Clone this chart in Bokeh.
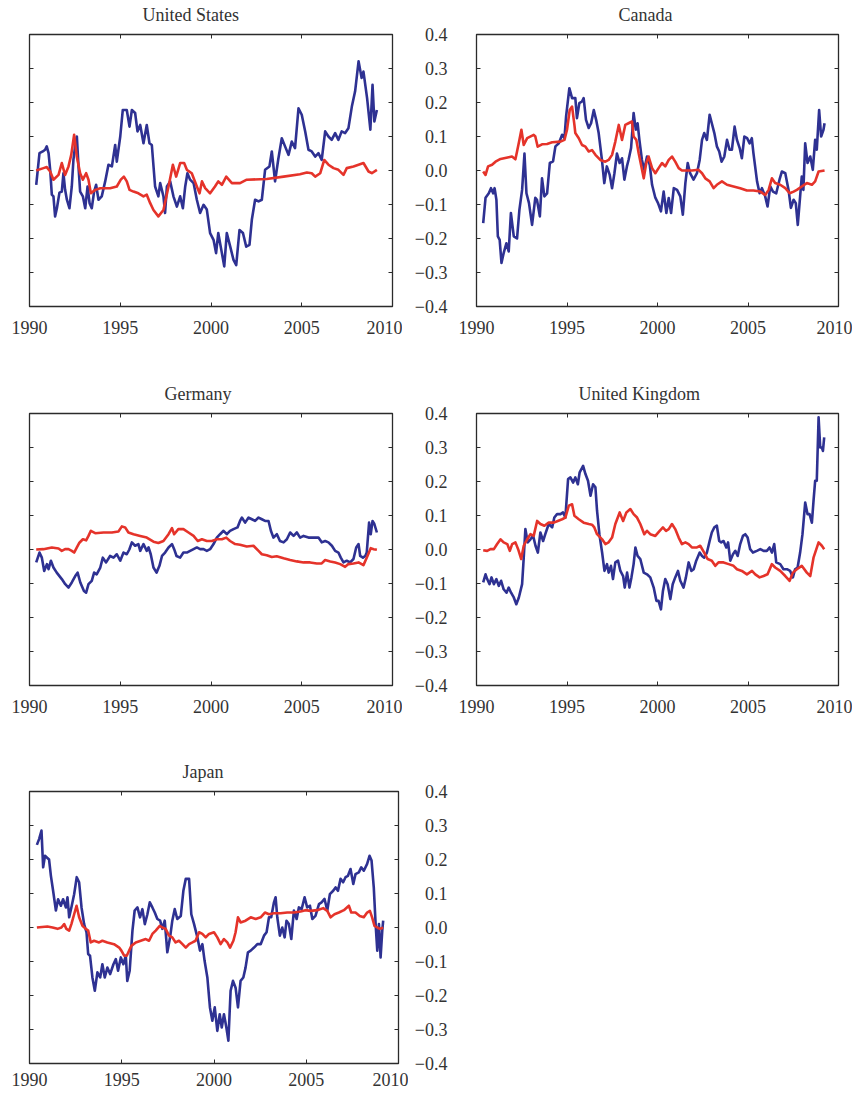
from bokeh.plotting import figure
from bokeh.models import Range1d, LinearAxis, FixedTicker, Title
from bokeh.layouts import column, row
from bokeh.embed import file_html
from bokeh.resources import INLINE

# ---------------- data ----------------
YEAR_TICKS = [1990, 1995, 2000, 2005, 2010]
YEAR_LABELS = ["1990", "1995", "2000", "2005", "2010"]
VALUE_TICKS = [-0.4, -0.3, -0.2, -0.1, 0.0, 0.1, 0.2, 0.3, 0.4]
VALUE_LABELS = ["\u22120.4", "\u22120.3", "\u22120.2", "\u22120.1", "0.0", "0.1", "0.2", "0.3", "0.4"]

# United States
US_BLUE_T = [1990.37, 1990.55, 1990.73, 1990.86, 1990.95, 1991.05, 1991.14, 1991.23, 1991.32, 1991.41, 1991.51, 1991.65, 1991.78, 1991.87, 1991.96, 1992.06, 1992.2, 1992.33, 1992.42, 1992.51, 1992.61, 1992.7, 1992.79, 1992.94, 1993.07, 1993.2, 1993.31, 1993.43, 1993.56, 1993.67, 1993.8, 1993.98, 1994.17, 1994.35, 1994.54, 1994.72, 1994.81, 1995.0, 1995.14, 1995.36, 1995.51, 1995.64, 1995.82, 1995.95, 1996.1, 1996.28, 1996.46, 1996.61, 1996.74, 1996.92, 1997.1, 1997.2, 1997.38, 1997.47, 1997.57, 1997.75, 1997.93, 1998.12, 1998.3, 1998.45, 1998.58, 1998.7, 1998.85, 1999.04, 1999.22, 1999.4, 1999.59, 1999.77, 1999.95, 2000.14, 2000.28, 2000.4, 2000.6, 2000.73, 2000.87, 2001.06, 2001.24, 2001.39, 2001.57, 2001.76, 2001.94, 2002.12, 2002.25, 2002.43, 2002.62, 2002.8, 2002.98, 2003.22, 2003.35, 2003.53, 2003.7, 2003.9, 2004.08, 2004.27, 2004.45, 2004.63, 2004.82, 2005.0, 2005.19, 2005.37, 2005.55, 2005.74, 2005.92, 2006.1, 2006.29, 2006.47, 2006.65, 2006.84, 2007.02, 2007.2, 2007.39, 2007.57, 2007.76, 2007.94, 2008.13, 2008.3, 2008.4, 2008.6, 2008.78, 2008.9, 2009.0, 2009.14]
US_BLUE_V = [-0.042, 0.051, 0.056, 0.061, 0.071, 0.051, 0.002, -0.071, -0.076, -0.135, -0.111, -0.065, -0.062, -0.008, -0.056, -0.086, -0.111, -0.047, 0.031, 0.071, 0.100, 0.012, -0.062, -0.076, -0.111, -0.047, -0.096, -0.111, -0.062, -0.042, -0.086, -0.076, -0.032, 0.017, 0.012, 0.075, 0.026, 0.100, 0.178, 0.178, 0.129, 0.178, 0.169, 0.115, 0.134, 0.080, 0.134, 0.080, 0.075, -0.047, -0.076, -0.037, -0.076, -0.125, -0.047, -0.032, -0.076, -0.106, -0.076, -0.111, -0.047, -0.008, -0.027, -0.037, -0.086, -0.125, -0.101, -0.115, -0.184, -0.204, -0.243, -0.184, -0.243, -0.282, -0.184, -0.224, -0.263, -0.278, -0.175, -0.184, -0.224, -0.219, -0.145, -0.086, -0.091, -0.086, 0.002, 0.012, 0.056, -0.032, 0.031, 0.095, 0.071, 0.046, 0.085, 0.066, 0.183, 0.164, 0.115, 0.061, 0.056, 0.041, 0.051, 0.031, 0.115, 0.100, 0.090, 0.110, 0.090, 0.115, 0.110, 0.124, 0.188, 0.233, 0.321, 0.272, 0.291, 0.213, 0.120, 0.252, 0.144, 0.178]
US_RED_T = [1990.37, 1990.77, 1990.95, 1991.14, 1991.32, 1991.6, 1991.78, 1991.96, 1992.15, 1992.3, 1992.46, 1992.61, 1992.79, 1992.94, 1993.12, 1993.25, 1993.38, 1993.62, 1993.9, 1994.44, 1994.81, 1995.03, 1995.2, 1995.36, 1995.51, 1995.73, 1996.0, 1996.28, 1996.46, 1996.65, 1996.83, 1997.1, 1997.38, 1997.66, 1997.9, 1998.08, 1998.3, 1998.52, 1998.67, 1998.94, 1999.22, 1999.37, 1999.5, 1999.68, 1999.95, 2000.22, 2000.4, 2000.6, 2000.84, 2001.15, 2001.6, 2001.97, 2003.07, 2004.0, 2004.9, 2005.28, 2005.55, 2005.74, 2006.02, 2006.24, 2006.47, 2006.75, 2007.02, 2007.3, 2007.48, 2007.85, 2008.13, 2008.4, 2008.68, 2008.86, 2009.14]
US_RED_V = [0.0, 0.007, 0.010, -0.003, -0.027, -0.013, 0.022, -0.013, 0.012, 0.046, 0.105, 0.040, -0.008, -0.027, -0.008, -0.027, -0.067, -0.057, -0.052, -0.052, -0.047, -0.027, -0.018, -0.032, -0.057, -0.062, -0.067, -0.076, -0.071, -0.096, -0.116, -0.135, -0.116, -0.047, 0.017, -0.018, 0.022, 0.022, 0.002, -0.008, -0.047, -0.067, -0.032, -0.052, -0.067, -0.047, -0.032, -0.042, -0.018, -0.037, -0.037, -0.027, -0.025, -0.018, -0.011, -0.006, -0.008, -0.018, -0.008, 0.031, 0.017, 0.007, 0.002, -0.013, 0.007, 0.012, 0.017, 0.022, -0.003, -0.008, 0.002]

# Canada
CA_BLUE_T = [1990.37, 1990.5, 1990.68, 1990.8, 1990.92, 1991.0, 1991.1, 1991.18, 1991.28, 1991.38, 1991.5, 1991.65, 1991.78, 1991.9, 1992.06, 1992.24, 1992.37, 1992.52, 1992.65, 1992.76, 1992.9, 1993.07, 1993.25, 1993.34, 1993.5, 1993.62, 1993.75, 1993.9, 1994.05, 1994.23, 1994.36, 1994.55, 1994.73, 1994.86, 1994.95, 1995.13, 1995.28, 1995.46, 1995.55, 1995.68, 1995.83, 1995.92, 1996.05, 1996.2, 1996.33, 1996.48, 1996.61, 1996.75, 1996.93, 1997.06, 1997.2, 1997.36, 1997.49, 1997.62, 1997.76, 1997.91, 1998.04, 1998.17, 1998.31, 1998.4, 1998.54, 1998.68, 1998.8, 1998.9, 1999.0, 1999.14, 1999.27, 1999.42, 1999.57, 1999.7, 1999.88, 2000.03, 2000.19, 2000.34, 2000.49, 2000.62, 2000.75, 2000.9, 2001.08, 2001.26, 2001.4, 2001.54, 2001.67, 2001.8, 2001.99, 2002.18, 2002.33, 2002.46, 2002.58, 2002.73, 2002.88, 2003.0, 2003.14, 2003.28, 2003.41, 2003.54, 2003.69, 2003.84, 2003.98, 2004.11, 2004.26, 2004.39, 2004.54, 2004.66, 2004.8, 2004.95, 2005.09, 2005.21, 2005.3, 2005.5, 2005.64, 2005.77, 2005.95, 2006.08, 2006.23, 2006.38, 2006.56, 2006.74, 2006.87, 2007.06, 2007.24, 2007.37, 2007.52, 2007.64, 2007.75, 2007.88, 2007.97, 2008.06, 2008.16, 2008.29, 2008.44, 2008.58, 2008.71, 2008.8, 2008.93, 2009.04, 2009.17, 2009.23]
CA_BLUE_V = [-0.155, -0.080, -0.067, -0.052, -0.067, -0.052, -0.086, -0.194, -0.204, -0.272, -0.243, -0.214, -0.238, -0.125, -0.194, -0.200, -0.116, -0.057, 0.050, -0.067, -0.096, -0.160, -0.080, -0.086, -0.135, -0.023, -0.076, -0.067, 0.022, 0.027, 0.071, 0.080, 0.105, 0.095, 0.159, 0.242, 0.213, 0.213, 0.154, 0.198, 0.203, 0.213, 0.149, 0.125, 0.139, 0.178, 0.149, 0.110, 0.031, -0.037, 0.012, -0.013, -0.052, -0.008, 0.050, 0.022, 0.036, -0.027, 0.012, 0.031, 0.066, 0.169, 0.120, 0.139, 0.090, 0.031, 0.002, 0.041, 0.017, -0.042, -0.080, -0.096, -0.120, -0.062, -0.125, -0.081, -0.125, -0.052, -0.057, -0.076, -0.130, -0.037, 0.022, -0.008, -0.027, -0.008, 0.031, 0.090, 0.110, 0.090, 0.164, 0.139, 0.110, 0.071, 0.056, 0.026, 0.041, 0.090, 0.061, 0.061, 0.129, 0.090, 0.066, 0.036, 0.100, 0.095, 0.080, 0.095, 0.051, -0.032, -0.067, -0.052, -0.076, -0.106, -0.047, -0.062, -0.067, -0.027, -0.003, -0.008, -0.057, -0.110, -0.086, -0.096, -0.160, -0.076, -0.018, -0.057, 0.080, 0.022, 0.041, 0.002, 0.090, 0.061, 0.178, 0.100, 0.120, 0.139]
CA_RED_T = [1990.37, 1990.5, 1990.64, 1990.86, 1991.05, 1991.33, 1991.78, 1991.96, 1992.15, 1992.24, 1992.37, 1992.48, 1992.61, 1992.8, 1993.16, 1993.25, 1993.38, 1993.62, 1993.9, 1994.18, 1994.64, 1994.86, 1995.0, 1995.15, 1995.28, 1995.41, 1995.46, 1995.65, 1995.83, 1996.02, 1996.2, 1996.38, 1996.57, 1996.84, 1997.12, 1997.3, 1997.49, 1997.67, 1997.86, 1998.04, 1998.22, 1998.4, 1998.59, 1998.68, 1998.83, 1998.96, 1999.09, 1999.24, 1999.38, 1999.51, 1999.7, 1999.88, 2000.06, 2000.25, 2000.43, 2000.62, 2000.8, 2000.98, 2001.17, 2001.35, 2001.9, 2002.27, 2002.46, 2002.64, 2002.88, 2003.1, 2003.28, 2003.56, 2003.84, 2004.2, 2004.57, 2004.94, 2005.3, 2005.68, 2005.95, 2006.14, 2006.32, 2006.5, 2006.78, 2007.06, 2007.3, 2007.52, 2007.7, 2007.97, 2008.25, 2008.53, 2008.71, 2008.9, 2009.23]
CA_RED_V = [-0.003, -0.013, 0.012, 0.017, 0.026, 0.034, 0.039, 0.041, 0.033, 0.056, 0.090, 0.120, 0.075, 0.095, 0.105, 0.100, 0.070, 0.077, 0.078, 0.083, 0.085, 0.090, 0.120, 0.178, 0.188, 0.134, 0.110, 0.095, 0.075, 0.070, 0.056, 0.060, 0.046, 0.031, 0.026, 0.031, 0.046, 0.085, 0.134, 0.090, 0.134, 0.139, 0.144, 0.100, 0.090, 0.051, 0.017, -0.023, 0.022, 0.041, 0.007, -0.008, 0.007, 0.022, 0.012, 0.031, 0.041, 0.026, 0.007, 0.0, 0.0, 0.002, -0.008, -0.023, -0.032, -0.052, -0.042, -0.032, -0.042, -0.047, -0.052, -0.059, -0.059, -0.062, -0.072, -0.057, -0.023, -0.037, -0.042, -0.052, -0.067, -0.062, -0.057, -0.047, -0.037, -0.042, -0.032, -0.003, 0.0]

# Germany
DE_BLUE_T = [1990.37, 1990.55, 1990.68, 1990.81, 1990.96, 1991.05, 1991.18, 1991.32, 1991.5, 1991.78, 1991.97, 1992.15, 1992.33, 1992.52, 1992.65, 1992.8, 1993.0, 1993.12, 1993.25, 1993.43, 1993.56, 1993.7, 1993.9, 1994.04, 1994.22, 1994.44, 1994.63, 1994.81, 1995.0, 1995.18, 1995.36, 1995.5, 1995.64, 1995.82, 1996.0, 1996.1, 1996.28, 1996.46, 1996.56, 1996.68, 1996.83, 1997.0, 1997.16, 1997.3, 1997.47, 1997.66, 1997.85, 1997.97, 1998.1, 1998.3, 1998.48, 1998.67, 1998.85, 1999.04, 1999.22, 1999.4, 1999.59, 1999.77, 1999.95, 2000.14, 2000.32, 2000.5, 2000.69, 2000.87, 2001.05, 2001.24, 2001.46, 2001.6, 2001.7, 2001.88, 2002.07, 2002.25, 2002.43, 2002.62, 2002.8, 2002.98, 2003.17, 2003.3, 2003.44, 2003.63, 2003.8, 2004.0, 2004.18, 2004.36, 2004.55, 2004.73, 2004.91, 2005.1, 2005.37, 2005.65, 2005.92, 2006.1, 2006.29, 2006.47, 2006.66, 2006.84, 2007.02, 2007.15, 2007.3, 2007.48, 2007.67, 2007.85, 2008.0, 2008.13, 2008.22, 2008.37, 2008.5, 2008.58, 2008.71, 2008.8, 2008.9, 2009.0, 2009.14]
DE_BLUE_V = [-0.038, -0.009, -0.024, -0.063, -0.043, -0.058, -0.033, -0.053, -0.068, -0.087, -0.102, -0.112, -0.097, -0.078, -0.068, -0.097, -0.122, -0.127, -0.102, -0.092, -0.068, -0.073, -0.053, -0.024, -0.038, -0.019, -0.024, -0.014, -0.033, -0.009, -0.014, 0.0, 0.021, 0.011, 0.016, -0.004, 0.016, -0.004, 0.006, -0.014, -0.053, -0.068, -0.048, -0.019, -0.009, 0.006, 0.016, 0.001, -0.019, -0.024, -0.009, -0.009, -0.004, 0.001, 0.006, 0.001, 0.001, -0.004, 0.001, 0.016, 0.035, 0.045, 0.055, 0.045, 0.055, 0.060, 0.065, 0.084, 0.094, 0.079, 0.094, 0.089, 0.084, 0.094, 0.089, 0.084, 0.084, 0.055, 0.035, 0.045, 0.025, 0.021, 0.030, 0.050, 0.040, 0.050, 0.035, 0.040, 0.035, 0.035, 0.035, 0.021, 0.025, 0.021, 0.011, -0.004, -0.009, -0.024, -0.038, -0.033, -0.038, -0.028, 0.006, 0.016, -0.019, -0.024, -0.019, -0.009, 0.079, 0.045, 0.084, 0.075, 0.050]
DE_RED_T = [1990.37, 1990.77, 1991.23, 1991.6, 1991.78, 1991.96, 1992.15, 1992.33, 1992.46, 1992.61, 1992.75, 1992.94, 1993.12, 1993.25, 1993.38, 1993.62, 1994.08, 1994.54, 1994.9, 1995.09, 1995.27, 1995.45, 1995.73, 1996.1, 1996.46, 1996.83, 1997.1, 1997.38, 1997.66, 1997.85, 1997.97, 1998.2, 1998.48, 1998.76, 1999.04, 1999.27, 1999.5, 1999.77, 2000.05, 2000.32, 2000.6, 2000.84, 2001.05, 2001.33, 2001.6, 2001.97, 2002.34, 2002.62, 2002.8, 2003.07, 2003.35, 2003.62, 2004.0, 2004.36, 2004.73, 2005.1, 2005.46, 2005.83, 2006.1, 2006.29, 2006.57, 2006.84, 2007.12, 2007.39, 2007.57, 2007.85, 2008.13, 2008.4, 2008.58, 2008.8, 2008.96, 2009.14]
DE_RED_V = [0.0, 0.001, 0.006, 0.003, -0.004, 0.001, 0.001, -0.004, -0.009, 0.006, 0.020, 0.030, 0.027, 0.040, 0.055, 0.048, 0.050, 0.050, 0.053, 0.068, 0.065, 0.050, 0.045, 0.040, 0.035, 0.023, 0.019, 0.025, 0.045, 0.063, 0.045, 0.060, 0.060, 0.050, 0.040, 0.025, 0.030, 0.025, 0.025, 0.030, 0.030, 0.035, 0.025, 0.016, 0.014, 0.009, 0.011, -0.004, -0.014, -0.017, -0.022, -0.020, -0.026, -0.031, -0.035, -0.038, -0.038, -0.041, -0.041, -0.031, -0.035, -0.038, -0.043, -0.051, -0.043, -0.041, -0.038, -0.046, -0.024, 0.004, 0.001, -0.001]

# United Kingdom
UK_BLUE_T = [1990.37, 1990.5, 1990.59, 1990.72, 1990.83, 1990.96, 1991.1, 1991.23, 1991.36, 1991.5, 1991.66, 1991.78, 1991.91, 1992.06, 1992.2, 1992.34, 1992.52, 1992.61, 1992.7, 1992.83, 1992.98, 1993.13, 1993.26, 1993.39, 1993.53, 1993.68, 1993.8, 1993.99, 1994.18, 1994.3, 1994.45, 1994.64, 1994.78, 1994.91, 1995.06, 1995.19, 1995.34, 1995.46, 1995.6, 1995.7, 1995.89, 1996.02, 1996.16, 1996.3, 1996.44, 1996.57, 1996.66, 1996.79, 1996.94, 1997.07, 1997.21, 1997.3, 1997.43, 1997.54, 1997.67, 1997.82, 1997.95, 1998.1, 1998.19, 1998.32, 1998.45, 1998.56, 1998.68, 1998.78, 1998.9, 1999.05, 1999.24, 1999.42, 1999.6, 1999.79, 1999.94, 2000.06, 2000.19, 2000.3, 2000.43, 2000.56, 2000.71, 2000.84, 2000.98, 2001.13, 2001.26, 2001.44, 2001.57, 2001.72, 2001.87, 2002.0, 2002.14, 2002.33, 2002.46, 2002.58, 2002.73, 2002.88, 2003.0, 2003.14, 2003.28, 2003.41, 2003.52, 2003.65, 2003.8, 2003.9, 2004.02, 2004.17, 2004.3, 2004.43, 2004.57, 2004.72, 2004.85, 2004.98, 2005.12, 2005.27, 2005.49, 2005.68, 2005.86, 2006.04, 2006.19, 2006.32, 2006.45, 2006.56, 2006.78, 2006.96, 2007.15, 2007.33, 2007.48, 2007.6, 2007.74, 2007.88, 2008.01, 2008.16, 2008.29, 2008.4, 2008.53, 2008.62, 2008.71, 2008.8, 2008.9, 2008.99, 2009.08, 2009.14, 2009.21]
UK_BLUE_V = [-0.097, -0.073, -0.087, -0.102, -0.082, -0.102, -0.087, -0.107, -0.092, -0.117, -0.127, -0.112, -0.127, -0.141, -0.161, -0.141, -0.102, -0.024, 0.060, 0.021, 0.030, 0.040, 0.011, -0.009, 0.050, 0.025, 0.045, 0.075, 0.065, 0.094, 0.104, 0.104, 0.109, 0.094, 0.207, 0.212, 0.197, 0.212, 0.192, 0.227, 0.246, 0.222, 0.202, 0.158, 0.192, 0.183, 0.114, 0.045, -0.009, -0.063, -0.043, -0.068, -0.048, -0.087, -0.038, -0.033, -0.063, -0.078, -0.112, -0.068, -0.112, -0.082, -0.043, 0.006, -0.019, -0.028, -0.068, -0.073, -0.082, -0.112, -0.151, -0.151, -0.176, -0.122, -0.087, -0.102, -0.146, -0.102, -0.082, -0.063, -0.092, -0.112, -0.082, -0.038, -0.063, -0.058, -0.033, -0.009, -0.019, -0.024, -0.009, 0.025, 0.050, 0.065, 0.070, 0.025, 0.021, 0.025, 0.006, 0.021, -0.033, -0.014, -0.004, -0.019, 0.016, 0.040, 0.045, 0.035, 0.001, -0.009, -0.004, 0.001, -0.004, -0.004, 0.006, -0.009, 0.016, -0.038, -0.043, -0.058, -0.058, -0.063, -0.082, -0.058, -0.053, -0.009, 0.045, 0.138, 0.104, 0.104, 0.079, 0.143, 0.202, 0.202, 0.389, 0.300, 0.300, 0.290, 0.330]
UK_RED_T = [1990.37, 1990.59, 1990.77, 1990.96, 1991.14, 1991.33, 1991.5, 1991.7, 1991.84, 1991.97, 1992.15, 1992.3, 1992.47, 1992.61, 1992.8, 1992.98, 1993.16, 1993.35, 1993.53, 1993.75, 1993.99, 1994.27, 1994.49, 1994.73, 1994.91, 1995.1, 1995.28, 1995.41, 1995.65, 1995.92, 1996.2, 1996.38, 1996.51, 1996.66, 1996.94, 1997.12, 1997.3, 1997.49, 1997.67, 1997.91, 1998.1, 1998.28, 1998.5, 1998.68, 1998.87, 1999.05, 1999.27, 1999.42, 1999.6, 1999.88, 2000.12, 2000.3, 2000.47, 2000.62, 2000.8, 2000.98, 2001.17, 2001.35, 2001.54, 2001.72, 2001.9, 2002.18, 2002.36, 2002.58, 2002.77, 2003.0, 2003.19, 2003.37, 2003.65, 2003.93, 2004.2, 2004.39, 2004.66, 2004.94, 2005.22, 2005.4, 2005.64, 2005.86, 2006.08, 2006.32, 2006.5, 2006.78, 2007.06, 2007.3, 2007.48, 2007.7, 2007.97, 2008.25, 2008.44, 2008.62, 2008.9, 2009.08, 2009.21]
UK_RED_V = [-0.002, -0.004, 0.001, 0.001, 0.016, 0.030, 0.021, 0.016, -0.004, 0.016, 0.021, 0.001, -0.028, 0.011, 0.030, 0.045, 0.040, 0.084, 0.075, 0.070, 0.079, 0.079, 0.084, 0.089, 0.094, 0.129, 0.133, 0.099, 0.089, 0.079, 0.075, 0.073, 0.065, 0.045, 0.030, 0.016, 0.021, 0.035, 0.075, 0.109, 0.084, 0.109, 0.119, 0.104, 0.094, 0.075, 0.045, 0.055, 0.045, 0.040, 0.055, 0.065, 0.055, 0.060, 0.075, 0.060, 0.035, 0.016, 0.021, 0.016, 0.006, 0.006, 0.011, -0.009, -0.028, -0.033, -0.048, -0.038, -0.038, -0.043, -0.048, -0.058, -0.063, -0.073, -0.063, -0.073, -0.082, -0.078, -0.073, -0.043, -0.053, -0.063, -0.078, -0.092, -0.068, -0.058, -0.048, -0.068, -0.078, -0.024, 0.021, 0.011, 0.001]

# Japan
JP_BLUE_T = [1990.4, 1990.52, 1990.65, 1990.74, 1990.84, 1990.94, 1991.06, 1991.16, 1991.28, 1991.43, 1991.55, 1991.7, 1991.82, 1991.97, 1992.06, 1992.15, 1992.27, 1992.42, 1992.56, 1992.69, 1992.82, 1992.96, 1993.09, 1993.18, 1993.28, 1993.41, 1993.54, 1993.68, 1993.83, 1993.95, 1994.08, 1994.22, 1994.37, 1994.55, 1994.68, 1994.8, 1994.95, 1995.09, 1995.22, 1995.3, 1995.43, 1995.58, 1995.7, 1995.85, 1995.99, 1996.12, 1996.25, 1996.39, 1996.52, 1996.66, 1996.79, 1996.93, 1997.08, 1997.2, 1997.33, 1997.47, 1997.62, 1997.74, 1997.87, 1998.01, 1998.2, 1998.34, 1998.47, 1998.65, 1998.77, 1998.92, 1999.1, 1999.24, 1999.37, 1999.49, 1999.64, 1999.78, 1999.91, 2000.04, 2000.18, 2000.31, 2000.42, 2000.54, 2000.67, 2000.78, 2000.9, 2001.03, 2001.17, 2001.3, 2001.44, 2001.59, 2001.71, 2001.84, 2001.99, 2002.17, 2002.35, 2002.53, 2002.71, 2002.85, 2002.98, 2003.1, 2003.25, 2003.34, 2003.43, 2003.57, 2003.7, 2003.83, 2003.93, 2004.06, 2004.19, 2004.33, 2004.48, 2004.6, 2004.75, 2004.91, 2005.05, 2005.2, 2005.33, 2005.5, 2005.69, 2005.83, 2005.99, 2006.14, 2006.28, 2006.46, 2006.59, 2006.72, 2006.86, 2007.0, 2007.13, 2007.26, 2007.4, 2007.55, 2007.67, 2007.85, 2007.98, 2008.12, 2008.3, 2008.43, 2008.54, 2008.66, 2008.76, 2008.85, 2008.94, 2009.03, 2009.12, 2009.17]
JP_BLUE_V = [0.243, 0.260, 0.285, 0.177, 0.211, 0.206, 0.200, 0.152, 0.108, 0.050, 0.083, 0.064, 0.083, 0.059, 0.089, 0.030, 0.059, 0.098, 0.148, 0.133, 0.059, 0.010, -0.014, -0.078, -0.083, -0.147, -0.186, -0.132, -0.147, -0.108, -0.147, -0.118, -0.137, -0.108, -0.093, -0.127, -0.088, -0.108, -0.083, -0.157, -0.127, -0.009, 0.050, 0.059, 0.030, 0.054, 0.010, 0.039, 0.074, 0.059, 0.044, 0.025, 0.020, -0.004, 0.020, -0.073, -0.029, 0.020, 0.054, 0.025, 0.034, 0.108, 0.143, 0.143, 0.039, 0.010, -0.029, -0.068, -0.049, -0.098, -0.147, -0.235, -0.274, -0.235, -0.304, -0.255, -0.294, -0.255, -0.294, -0.333, -0.186, -0.157, -0.177, -0.235, -0.157, -0.147, -0.118, -0.073, -0.068, -0.059, -0.049, -0.049, -0.024, -0.014, 0.030, 0.030, 0.074, 0.089, 0.030, -0.024, 0.0, -0.029, 0.020, 0.010, -0.034, 0.050, 0.025, 0.059, 0.054, 0.089, 0.059, 0.064, 0.025, 0.034, 0.069, 0.074, 0.084, 0.050, 0.098, 0.108, 0.118, 0.108, 0.143, 0.133, 0.148, 0.152, 0.172, 0.128, 0.157, 0.162, 0.177, 0.167, 0.187, 0.211, 0.197, 0.118, 0.010, -0.068, 0.010, -0.088, -0.009, 0.020]
JP_RED_T = [1990.4, 1990.97, 1991.25, 1991.52, 1991.73, 1991.88, 1992.0, 1992.15, 1992.27, 1992.42, 1992.55, 1992.69, 1992.87, 1993.05, 1993.18, 1993.32, 1993.5, 1993.77, 1993.95, 1994.22, 1994.58, 1994.86, 1994.98, 1995.13, 1995.27, 1995.4, 1995.52, 1995.76, 1996.03, 1996.3, 1996.48, 1996.66, 1996.84, 1997.06, 1997.2, 1997.38, 1997.56, 1997.74, 1997.92, 1998.1, 1998.29, 1998.47, 1998.65, 1998.83, 1999.0, 1999.19, 1999.37, 1999.55, 1999.73, 2000.0, 2000.18, 2000.36, 2000.54, 2000.72, 2000.87, 2001.05, 2001.17, 2001.3, 2001.44, 2001.71, 2001.99, 2002.26, 2002.53, 2002.76, 2002.98, 2003.25, 2003.61, 2003.97, 2004.33, 2004.69, 2004.96, 2005.23, 2005.6, 2005.92, 2006.14, 2006.32, 2006.53, 2006.77, 2007.04, 2007.31, 2007.44, 2007.67, 2007.9, 2008.12, 2008.3, 2008.45, 2008.57, 2008.7, 2008.85, 2008.99, 2009.17]
JP_RED_V = [0.0, 0.003, 0.0, -0.004, 0.0, 0.010, -0.004, -0.009, 0.010, 0.039, 0.064, 0.030, 0.005, -0.004, -0.009, -0.044, -0.039, -0.044, -0.039, -0.044, -0.049, -0.059, -0.068, -0.083, -0.083, -0.068, -0.054, -0.044, -0.039, -0.034, -0.039, -0.019, -0.009, 0.005, 0.0, -0.004, -0.024, -0.029, -0.044, -0.039, -0.049, -0.059, -0.049, -0.044, -0.039, -0.014, -0.019, -0.029, -0.019, -0.014, -0.029, -0.049, -0.034, -0.044, -0.059, -0.039, -0.014, 0.030, 0.015, 0.020, 0.030, 0.025, 0.030, 0.044, 0.039, 0.042, 0.042, 0.044, 0.044, 0.047, 0.051, 0.049, 0.051, 0.057, 0.049, 0.030, 0.039, 0.044, 0.051, 0.064, 0.044, 0.044, 0.034, 0.030, 0.044, 0.049, 0.030, 0.005, 0.0, -0.004, -0.001]

# ---------------- style ----------------
FONT = "Liberation Serif"
TEXT = "#333333"
FRAME = "#2b2b2b"
BLUE = "#2e3192"
RED = "#e5332a"
FS = "18px"
FRAME_H = 272
TOP = 34


def style_axis(ax, ticks, labels, show, standoff):
    ax.ticker = FixedTicker(ticks=ticks)
    ax.axis_line_color = None
    ax.major_tick_in = 4
    ax.major_tick_out = 0
    ax.major_tick_line_color = FRAME
    ax.major_tick_line_width = 1
    ax.minor_tick_line_color = None
    ax.major_label_text_font = FONT
    ax.major_label_text_color = TEXT
    ax.major_label_standoff = standoff
    if show:
        ax.major_label_text_font_size = FS
        ax.major_label_overrides = {t: s for t, s in zip(ticks, labels)}
    else:
        ax.major_label_text_font_size = "0px"
        ax.major_label_overrides = {t: "" for t in ticks}


def make_panel(title, title_offset, bt, bv, rt, rv, frame_w, b_left, b_right, b_bottom,
               y_labels, y_standoff, x_standoff):
    p = figure(frame_width=frame_w, frame_height=FRAME_H,
               min_border_left=b_left, min_border_right=b_right,
               min_border_top=TOP, min_border_bottom=b_bottom,
               x_range=Range1d(1990, 2010), y_range=Range1d(-0.4, 0.4),
               output_backend="svg", toolbar_location=None, title_location=None)
    p.outline_line_color = FRAME
    p.outline_line_width = 1.3
    p.grid.visible = False
    p.add_layout(LinearAxis(), "above")
    p.add_layout(LinearAxis(), "right")
    style_axis(p.below[0], YEAR_TICKS, YEAR_LABELS, True, x_standoff)
    style_axis(p.above[0], YEAR_TICKS, YEAR_LABELS, False, 0)
    style_axis(p.left[0], VALUE_TICKS, VALUE_LABELS, y_labels, y_standoff)
    style_axis(p.right[0], VALUE_TICKS, VALUE_LABELS, False, 0)
    # invisible spacer axis: lifts the panel title clear of the frame
    spacer = LinearAxis()
    p.add_layout(spacer, "above")
    style_axis(spacer, YEAR_TICKS, YEAR_LABELS, False, 0)
    spacer.major_tick_in = 0
    spacer.major_tick_out = 10
    spacer.major_tick_line_alpha = 0
    p.line(bt, bv, line_color=BLUE, line_width=2.6, line_join="round")
    p.line(rt, rv, line_color=RED, line_width=2.6, line_join="round")
    p.add_layout(Title(text=title, align="left", offset=title_offset, standoff=0,
                       text_font=FONT, text_font_size=FS, text_font_style="normal",
                       text_color=TEXT), "above")
    return p


us = make_panel("United States", 113, US_BLUE_T, US_BLUE_V, US_RED_T, US_RED_V,
                363, 29, 10, 73, False, 0, 14)
ca = make_panel("Canada", 142, CA_BLUE_T, CA_BLUE_V, CA_RED_T, CA_RED_V,
                362, 74, 14, 73, True, 29, 14)
de = make_panel("Germany", 135, DE_BLUE_T, DE_BLUE_V, DE_RED_T, DE_RED_V,
                363, 29, 10, 72, False, 0, 14)
uk = make_panel("United Kingdom", 102, UK_BLUE_T, UK_BLUE_V, UK_RED_T, UK_RED_V,
                362, 74, 14, 72, True, 29, 14)
jp = make_panel("Japan", 153, JP_BLUE_T, JP_BLUE_V, JP_RED_T, JP_RED_V,
                369, 29, 10, 30, False, 0, 9)

# value labels to the right of the Japan panel (right-aligned, as in the original)
jl = figure(frame_width=10, frame_height=FRAME_H, min_border_left=41, min_border_right=0,
            min_border_top=TOP, min_border_bottom=30,
            x_range=Range1d(0, 1), y_range=jp.y_range,
            output_backend="svg", toolbar_location=None, title_location=None,
            x_axis_location=None, y_axis_location="left")
jl.outline_line_color = None
jl.grid.visible = False
style_axis(jl.left[0], VALUE_TICKS, VALUE_LABELS, True, 2)
jl.left[0].major_tick_line_color = None

layout = column(row(us, ca), row(de, uk), row(jp, jl))

open("out.html", "w").write(file_html(layout, INLINE))
